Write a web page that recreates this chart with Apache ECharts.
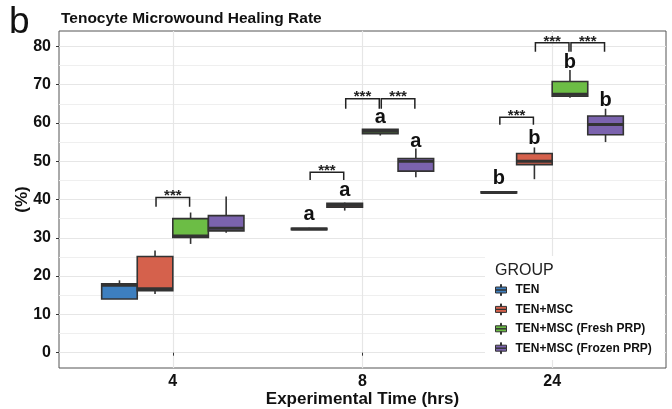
<!DOCTYPE html>
<html><head><meta charset="utf-8">
<script src="https://cdn.jsdelivr.net/npm/echarts@6/dist/echarts.min.js"></script>
<style>html,body{margin:0;padding:0;background:#fff}#c{width:672px;height:409px}</style>
</head><body><div id="c"></div>
<script>
// ---- data ----
const categories = ['4', '8', '24'];
const groups = ['TEN', 'TEN+MSC', 'TEN+MSC (Fresh PRP)', 'TEN+MSC (Frozen PRP)'];
// [min, q1, median, q3, max] per time point
const tenStats      = [[14.0, 14.0, 17.6, 18.0, 18.9], [32.1, 32.1, 32.3, 32.5, 32.6], [41.6, 41.7, 41.85, 42.0, 42.1]];
const tenMscStats   = [[15.3, 16.2, 16.7, 25.1, 26.7], [37.1, 38.0, 38.5, 39.0, 39.2], [45.3, 49.1, 50.0, 52.0, 53.6]];
const freshStats    = [[28.4, 30.1, 30.5, 35.0, 36.6], [56.7, 57.2, 57.8, 58.3, 58.4], [66.6, 67.0, 67.5, 70.8, 73.8]];
const frozenStats   = [[31.3, 31.8, 32.5, 35.8, 40.8], [45.8, 47.4, 50.0, 50.7, 53.3], [55.0, 56.9, 59.6, 61.8, 63.7]];
const yTicks = [0, 10, 20, 30, 40, 50, 60, 70, 80];
const yMinorTicks = [5, 15, 25, 35, 45, 55, 65, 75];
// letter annotations
const letterTime  = [2, 2, 2, 2, 3, 3, 3, 3];
const letterGroup = [0, 1, 2, 3, 0, 1, 2, 3];
const letterY     = [36.2, 42.3, 61.3, 55.2, 45.4, 55.9, 75.9, 65.8];
const letterText  = ['a', 'a', 'a', 'a', 'b', 'b', 'b', 'b'];
// significance brackets
const brTime = [1, 2, 2, 2, 3, 3, 3];
const brFrom = [1, 0, 1, 2, 0, 1, 2];
const brTo   = [2, 1, 2, 3, 1, 2, 3];
const brY    = [40.5, 47.1, 66.3, 66.3, 61.5, 80.9, 80.9];
const brTip  = [38.1, 45.1, 63.7, 63.7, 59.5, 78.6, 78.6];
const brLabel = ['***', '***', '***', '***', '***', '***', '***'];

// ---- style ----
const colors = ['#3d7fbf', '#d5614c', '#6cbd45', '#7b63ae'];
const dodge = [-0.28125, -0.09375, 0.09375, 0.28125];
const boxW = 0.1875;
const FONT = '"Liberation Sans", Arial, sans-serif';
const INK = '#333';

function boxRender(params, api) {
  const si = params.seriesIndex;
  const x = api.value(0);
  const cx = api.coord([x + dodge[si], 0])[0];
  const half = api.size([boxW, 0])[0] / 2;
  const yMin = api.coord([x, api.value(1)])[1];
  const yQ1 = api.coord([x, api.value(2)])[1];
  const yMed = api.coord([x, api.value(3)])[1];
  const yQ3 = api.coord([x, api.value(4)])[1];
  const yMax = api.coord([x, api.value(5)])[1];
  return {
    type: 'group',
    children: [
      { type: 'line', shape: { x1: cx, y1: yMax, x2: cx, y2: yQ3 }, style: { stroke: INK, lineWidth: 1.6 } },
      { type: 'line', shape: { x1: cx, y1: yQ1, x2: cx, y2: yMin }, style: { stroke: INK, lineWidth: 1.6 } },
      { type: 'rect', shape: { x: cx - half, y: yQ3, width: 2 * half, height: Math.max(yQ1 - yQ3, 0.5) },
        style: { fill: api.visual('color'), stroke: INK, lineWidth: 1.6 } },
      { type: 'line', shape: { x1: cx - half, y1: yMed, x2: cx + half, y2: yMed }, style: { stroke: INK, lineWidth: 3 } }
    ]
  };
}

function letterRender(params, api) {
  const i = params.dataIndex;
  const x = api.value(0) + dodge[api.value(1)];
  const p = api.coord([x, api.value(2)]);
  return { type: 'text', x: p[0], y: p[1],
    style: { text: letterText[i], fill: '#111', font: 'bold 20px ' + FONT, align: 'center', verticalAlign: 'middle' } };
}

function bracketRender(params, api) {
  const i = params.dataIndex;
  const t = api.value(0);
  const x1 = api.coord([t + dodge[api.value(1)], 0])[0] + 1;
  const x2 = api.coord([t + dodge[api.value(2)], 0])[0] - 1;
  const y = api.coord([t, api.value(3)])[1];
  const yt = api.coord([t, api.value(4)])[1];
  return { type: 'group', children: [
    { type: 'polyline', shape: { points: [[x1, yt], [x1, y], [x2, y], [x2, yt]] }, style: { stroke: '#222', lineWidth: 1.5, fill: null } },
    { type: 'text', x: (x1 + x2) / 2, y: y - 1.5,
      style: { text: brLabel[i], fill: '#222', font: 'bold 15px ' + FONT, align: 'center', verticalAlign: 'middle' } }
  ] };
}

const allStats = [tenStats, tenMscStats, freshStats, frozenStats];
const boxSeries = groups.map((g, gi) => ({
  name: g, type: 'custom', renderItem: boxRender, z: 3,
  itemStyle: { color: colors[gi] },
  encode: { x: 0, y: [1, 2, 3, 4, 5] },
  data: allStats[gi].map((s, ti) => [ti + 1].concat(s))
}));

const legendIcon = 'path://M10,0 L12,0 L12,5 L10,5 Z M0,5 L22,5 L22,11 L0,11 Z M0,11 L22,11 L22,17 L0,17 Z M10,17 L12,17 L12,22 L10,22 Z';

const chart = echarts.init(document.getElementById('c'), null, { renderer: 'canvas' });
chart.setOption({
  animation: false,
  backgroundColor: '#fff',
  textStyle: { fontFamily: FONT },
  title: { text: 'Tenocyte Microwound Healing Rate', left: 56, top: 6,
    textStyle: { fontFamily: FONT, fontWeight: 'bold', fontSize: 15.5, color: '#111' } },
  grid: { left: 59, right: 6, top: 31, bottom: 41, show: true, borderColor: '#555', borderWidth: 1, backgroundColor: '#fff',
    containLabel: false, outerBoundsMode: 'none' },
  xAxis: {
    type: 'value', min: 0.4, max: 3.6,
    name: 'Experimental Time (hrs)', nameLocation: 'middle', nameGap: 23, nameMoveOverlap: false,
    nameTextStyle: { fontFamily: FONT, fontWeight: 'bold', fontSize: 17, color: '#111' },
    axisLine: { show: false },
    axisTick: { show: true, length: 3, lineStyle: { color: INK }, customValues: [1, 2, 3] },
    axisLabel: { customValues: [1, 2, 3], formatter: v => categories[Math.round(v) - 1],
      fontFamily: FONT, fontWeight: 'bold', fontSize: 16, color: '#111', margin: 6 },
    splitLine: { show: true, lineStyle: { color: '#e6e6e6', width: 1.2 } }
  },
  yAxis: [{
    type: 'value', min: -4, max: 84,
    name: '(%)', nameLocation: 'middle', nameGap: 28, nameMoveOverlap: false,
    nameTextStyle: { fontFamily: FONT, fontWeight: 'bold', fontSize: 17, color: '#111' },
    axisLine: { show: false },
    axisTick: { show: true, length: 3, lineStyle: { color: INK }, customValues: yTicks },
    axisLabel: { customValues: yTicks, fontFamily: FONT, fontWeight: 'bold', fontSize: 16, color: '#111', margin: 8 },
    splitLine: { show: true, lineStyle: { color: '#e6e6e6', width: 1.2 } }
  }, {
    type: 'value', min: -4, max: 84, position: 'left',
    axisLine: { show: false },
    axisTick: { show: false, customValues: yMinorTicks },
    axisLabel: { show: false, customValues: yMinorTicks },
    splitLine: { show: true, lineStyle: { color: '#efefef', width: 1 } }
  }],
  legend: {
    orient: 'vertical', left: 495, top: 284, itemWidth: 11, itemHeight: 11, itemGap: 7.4,
    icon: legendIcon, padding: 0, z: 10,
    data: groups,
    itemStyle: { borderColor: INK, borderWidth: 1 },
    textStyle: { fontFamily: FONT, fontWeight: 'bold', fontSize: 12, color: '#111', padding: [0, 0, 0, 4] }
  },
  graphic: [
    { type: 'text', left: 9, top: 4, z: 10, style: { text: 'b', font: '37px ' + FONT, fill: '#111' } },
    { type: 'rect', left: 485, top: 256, z: 5, shape: { width: 179, height: 104 }, style: { fill: '#fff' } },
    { type: 'text', left: 495, top: 263, z: 10, style: { text: 'GROUP', font: '16px ' + FONT, fill: '#222' } }
  ],
  series: boxSeries.concat([
    { type: 'custom', renderItem: letterRender, z: 4, silent: true,
      encode: { x: 0, y: 2 },
      data: letterTime.map((t, i) => [t, letterGroup[i], letterY[i]]) },
    { type: 'custom', renderItem: bracketRender, z: 4, silent: true,
      encode: { x: 0, y: [3, 4] },
      data: brTime.map((t, i) => [t, brFrom[i], brTo[i], brY[i], brTip[i]]) }
  ])
});
</script></body></html>
